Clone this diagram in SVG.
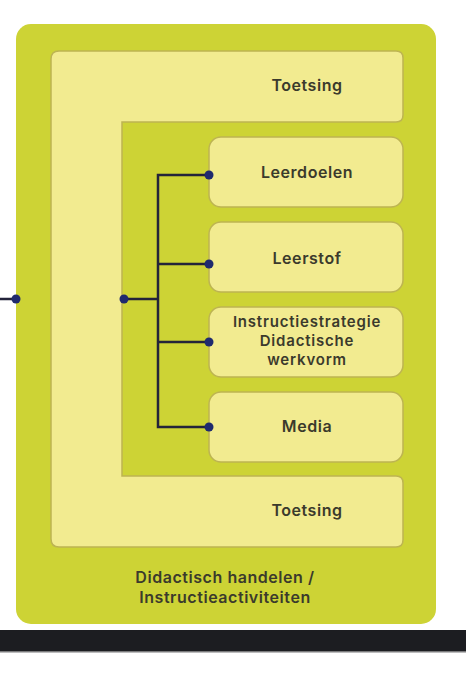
<svg xmlns="http://www.w3.org/2000/svg" width="466" height="688" viewBox="0 0 466 688">
<style>
.lbl{font-family:"Inter","Liberation Sans",sans-serif;font-weight:600;font-size:16px;letter-spacing:0.55px;fill:#3b3a2c;text-anchor:middle}
.sm{font-size:15px;letter-spacing:0.8px}
.box{fill:#f2eb90;stroke:#bdb452;stroke-width:1.5}
.ln{fill:none;stroke:#23233a;stroke-width:2.5}
.dot{fill:#1f2a6e}
</style>
<rect width="466" height="688" fill="#ffffff"/>
<g id="outer">
<rect x="16" y="24" width="420" height="600" rx="15" fill="#cdd335"/>
<text class="lbl" x="225" y="583">Didactisch handelen /</text>
<text class="lbl" x="225" y="603">Instructieactiviteiten</text>
</g>
<g id="toetsing">
<path class="box" d="M59,51 H396 Q403,51 403,58 V115 Q403,122 396,122 H122 V476 H396 Q403,476 403,483 V540 Q403,547 396,547 H59 Q51,547 51,539 V59 Q51,51 59,51 Z"/>
<text class="lbl" x="307" y="91">Toetsing</text>
<text class="lbl" x="307" y="516">Toetsing</text>
</g>
<g id="leerdoelen">
<rect class="box" x="209" y="137" width="194" height="70" rx="12"/>
<text class="lbl" x="307" y="178">Leerdoelen</text>
</g>
<g id="leerstof">
<rect class="box" x="209" y="222" width="194" height="70" rx="12"/>
<text class="lbl" x="307" y="264">Leerstof</text>
</g>
<g id="instructie">
<rect class="box" x="209" y="307" width="194" height="70" rx="12"/>
<text class="lbl sm" x="307" y="327">Instructiestrategie</text>
<text class="lbl sm" x="307" y="346">Didactische</text>
<text class="lbl sm" x="307" y="365">werkvorm</text>
</g>
<g id="media">
<rect class="box" x="209" y="392" width="194" height="70" rx="12"/>
<text class="lbl" x="307" y="432">Media</text>
</g>
<g id="connectors">
<path class="ln" d="M209,175 H158 V427 H209 M158,264 H209 M158,342 H209 M124,299 H158 M0,299 H16"/>
<circle class="dot" cx="209" cy="175" r="4.5"/>
<circle class="dot" cx="209" cy="264" r="4.5"/>
<circle class="dot" cx="209" cy="342" r="4.5"/>
<circle class="dot" cx="209" cy="427" r="4.5"/>
<circle class="dot" cx="124" cy="299" r="4.5"/>
<circle class="dot" cx="16" cy="299" r="4.5"/>
</g>
<rect x="0" y="630" width="466" height="22" fill="#1c1d21"/>
<rect x="0" y="651" width="466" height="1.5" fill="#7a7a7c"/>
</svg>
